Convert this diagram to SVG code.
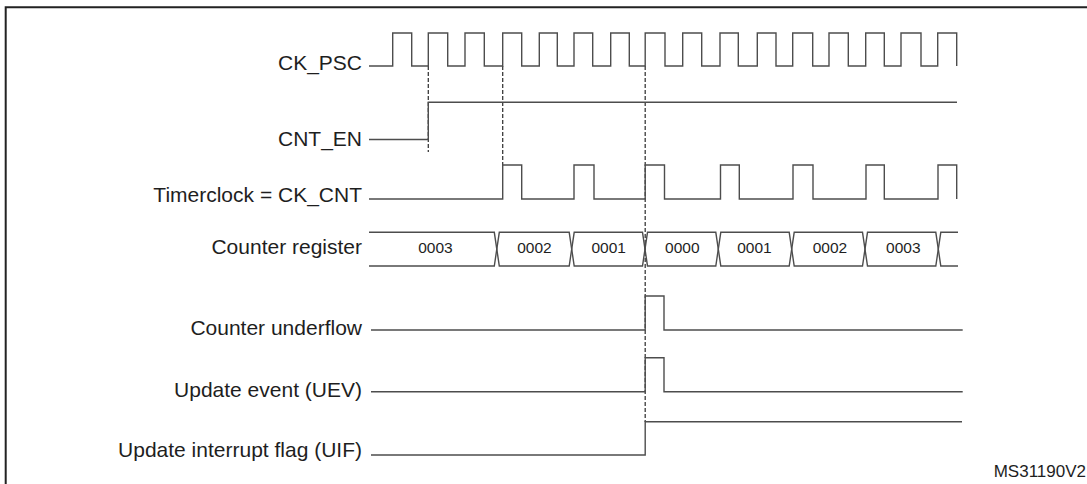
<svg xmlns="http://www.w3.org/2000/svg" width="1087" height="484" viewBox="0 0 1087 484">
  <style>
    .lbl { font-family: "Liberation Sans", Arial, sans-serif; font-size: 21px; fill: #1e1e1e; text-anchor: end; }
    .val { font-family: "Liberation Sans", Arial, sans-serif; font-size: 15.5px; fill: #1e1e1e; text-anchor: middle; }
    .ref { font-family: "Liberation Sans", Arial, sans-serif; font-size: 17px; fill: #1e1e1e; text-anchor: end; }
    .wave { fill: none; stroke: #4d4d4d; stroke-width: 1.4; stroke-linejoin: miter; }
    .dash { fill: none; stroke: #3a3a3a; stroke-width: 1.3; stroke-dasharray: 4 2; }
    .frame { fill: none; stroke: #222; stroke-width: 2; }
  </style>
  <rect width="1087" height="484" fill="#fff"/>
  <path class="frame" d="M5.7,484 V7.3 H1087"/>

  <g id="connectors">
    <line class="dash" x1="428.3" y1="66" x2="428.3" y2="152"/>
    <line class="dash" x1="502.7" y1="66" x2="502.7" y2="165"/>
    <line class="dash" x1="645.2" y1="66" x2="645.2" y2="422"/>
  </g>

  <g id="ck_psc">
    <text class="lbl" x="362" y="70">CK_PSC</text>
    <path class="wave" d="M369,66 H392.7 V33 H411.7 V66 H428.3 V33 H447.7 V66 H465 V33 H484.3 V66 H502.7 V33 H521.7 V66 H539.3 V33 H557.3 V66 H574 V33 H592.7 V66 H610.7 V33 H629.3 V66 H645.2 V33 H665 V66 H682.7 V33 H701.7 V66 H720 V33 H738.3 V66 H757.3 V33 H776 V66 H792.7 V33 H812.7 V66 H829 V33 H848.3 V66 H865.7 V33 H884.3 V66 H901 V33 H921 V66 H937.7 V33 H956.7 V66"/>
  </g>

  <g id="cnt_en">
    <text class="lbl" x="362" y="146">CNT_EN</text>
    <path class="wave" d="M369,139.5 H428.3 V102.3 H957"/>
  </g>

  <g id="timerclock">
    <text class="lbl" x="362" y="201.7">Timerclock = CK_CNT</text>
    <path class="wave" d="M369,199 H502.7 V165 H521.7 V199 H574 V165 H594 V199 H645.2 V165 H664.5 V199 H720.5 V165 H739.3 V199 H793 V165 H813 V199 H866 V165 H884.3 V199 H938 V165 H956.7 V199"/>
  </g>

  <g id="counter_register">
    <text class="lbl" x="362" y="254.3">Counter register</text>
    <path class="wave" d="M369,232.3 H494.3 L499.3,266 H569.2 L574.2,232.3 H642.5 L647.5,266 H715.8 L720.8,232.3 H789.2 L794.2,266 H862.5 L867.5,232.3 H935.8 L940.8,266 H958"/>
    <path class="wave" d="M369,266 H494.3 L499.3,232.3 H569.2 L574.2,266 H642.5 L647.5,232.3 H715.8 L720.8,266 H789.2 L794.2,232.3 H862.5 L867.5,266 H935.8 L940.8,232.3 H958"/>
    <text class="val" x="435.5" y="253.3">0003</text>
    <text class="val" x="534.5" y="253.3">0002</text>
    <text class="val" x="608.7" y="253.3">0001</text>
    <text class="val" x="682.3" y="253.3">0000</text>
    <text class="val" x="754.5" y="253.3">0001</text>
    <text class="val" x="830" y="253.3">0002</text>
    <text class="val" x="903.3" y="253.3">0003</text>
  </g>

  <g id="counter_underflow">
    <text class="lbl" x="362" y="335">Counter underflow</text>
    <path class="wave" d="M371,330 H645.2 V296 H664 V330 H962.7"/>
  </g>

  <g id="update_event">
    <text class="lbl" x="362" y="396.7">Update event (UEV)</text>
    <path class="wave" d="M371,391.7 H645.2 V357.7 H664 V391.7 H962.7"/>
  </g>

  <g id="uif">
    <text class="lbl" x="362" y="456.7">Update interrupt flag (UIF)</text>
    <path class="wave" d="M371,455 H645.2 V421.7 H962"/>
  </g>

  <text class="ref" x="1086" y="477.3">MS31190V2</text>
</svg>
